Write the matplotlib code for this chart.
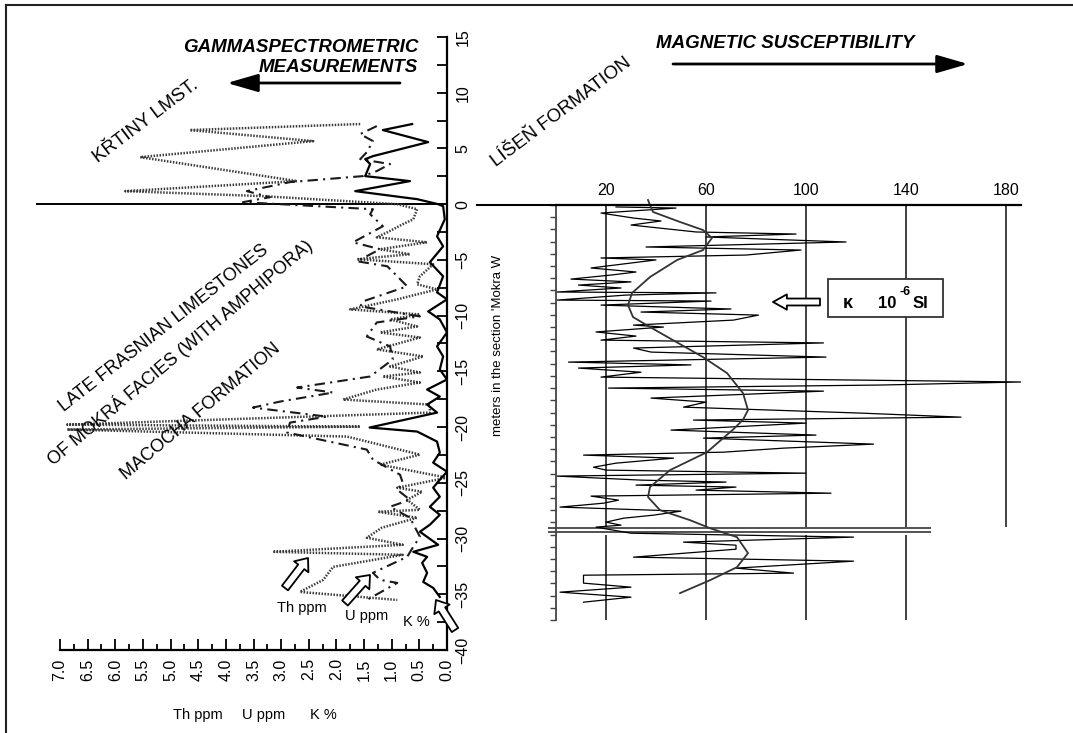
import matplotlib.pyplot as plt
from matplotlib.patches import FancyArrowPatch, Rectangle
from matplotlib.lines import Line2D

plt.rcParams['font.family'] = ['Liberation Sans', 'DejaVu Sans']

W, H = 1073, 733

# --- gammaspectrometry (depth in m, values in ppm / %) ---
k_depth = [7.19, 6.65, 5.57, 4.31, 4.04, 3.6, 2.52, 2.07, 1.17, 0.45, 0.0, -0.18, -1.35, -2.88,
           -3.78, -5.21, -6.47, -7.91, -8.54, -9.62, -10.34, -11.51, -12.76, -13.66, -14.83,
           -15.73, -16.63, -17.26, -17.98, -18.7, -20.04, -20.4, -21.3, -22.29, -23.19, -24.0,
           -24.72, -25.44, -26.25, -27.15, -27.87, -28.76, -29.39, -30.56, -31.19, -31.64,
           -32.18, -33.08, -33.89, -34.43, -35.24]
k_pct = [0.63, 1.16, 0.34, 1.34, 1.48, 1.39, 1.48, 0.67, 1.66, 0.54, 0.16, 0.07, 0.04, 0.18,
         0.07, 0.31, 0.07, 0.18, 0.0, 0.34, 0.13, 0.0, 0.18, 0.07, 0.13,
         0.0, 0.36, 0.13, 0.36, 0.18, 1.4, 0.54, 0.18, 0.13, 0.25, 0.0,
         0.13, 0.25, 0.13, 0.31, 0.13, 0.31, 0.49, 0.16, 0.61, 0.36,
         0.45, 0.36, 0.43, 0.25, 0.13]

th_depth = [7.19, 6.65, 5.66, 4.22, 2.07, 1.17, 0.72, 0.0, -0.45, -1.35, -1.8, -2.52, -2.97,
            -3.42, -4.04, -4.49, -4.94, -5.39, -6.47, -7.19, -7.64, -8.54, -9.44, -9.89,
            -10.34, -10.97, -11.51, -11.96, -13.03, -13.66, -14.56, -15.1, -15.46, -16.0,
            -16.63, -17.53, -17.98, -18.7, -19.78, -19.96, -20.22, -20.85, -22.47, -23.37,
            -24.54, -25.44, -25.8, -26.52, -27.42, -27.6, -28.13, -29.03, -29.93, -30.56,
            -31.19, -31.46, -32.54, -33.71, -34.79, -35.51]
th_ppm = [1.57, 4.65, 2.42, 5.55, 2.71, 5.82, 3.33, 0.9, 0.54, 0.61, 0.8, 1.08, 1.27,
          0.36, 1.21, 0.67, 1.63, 0.25, 0.49, 0.54, 0.18, 0.9, 1.75, 0.49,
          1.03, 0.54, 1.21, 0.49, 1.27, 0.43, 1.03, 0.49, 1.16, 0.49,
          1.27, 1.88, 0.31, 0.31, 6.87, 1.57, 6.87, 1.81, 0.49, 1.21,
          0.0, 0.9, 0.45, 0.72, 0.49, 1.25, 0.54, 1.18, 1.45, 0.8,
          3.15, 0.8, 2.06, 2.24, 2.66, 0.9]

u_depth = [7.01, 6.29, 5.66, 4.67, 4.04, 3.6, 2.97, 2.52, 1.98, 1.17, 0.63, 0.18, -0.45, -0.9,
           -1.98, -3.42, -4.04, -5.12, -5.57, -7.37, -8.72, -9.17, -10.07, -10.61, -11.87,
           -12.76, -13.93, -15.46, -16.45, -16.9, -17.71, -18.25, -19.06, -19.6, -20.49,
           -22.02, -22.92, -23.64, -24.27, -24.99, -25.62, -26.52, -27.15, -28.13, -29.84,
           -30.74, -31.64, -33.08, -33.71, -33.98, -35.51]
u_ppm = [1.27, 1.57, 1.34, 1.45, 1.57, 1.03, 1.27, 1.52, 2.84, 3.62, 3.2, 3.69, 1.34, 1.39,
         1.16, 1.7, 1.21, 1.63, 1.08, 0.72, 1.52, 1.57, 0.49, 1.27, 1.45,
         1.03, 0.98, 1.39, 2.71, 2.06, 3.02, 3.51, 2.17, 2.84, 2.89,
         1.45, 1.34, 1.08, 0.85, 0.8, 0.9, 0.67, 1.03, 0.67, 0.49,
         0.61, 0.72, 1.34, 1.21, 0.9, 1.45]

# --- magnetic susceptibility (kappa 10^-6 SI) ---
ms_depth = [-0.16, -0.25, -0.66, -1.07, -1.31, -1.64, -2.21, -2.38, -2.62, -3.03, -3.44, -3.69,
            -4.1, -4.34, -4.5, -5.16, -5.49, -5.74, -6.07, -6.3, -6.56, -6.8, -7.13, -7.2,
            -7.38, -7.79, -7.87, -8.2, -8.52, -8.77, -9.02, -9.43, -9.84, -10.0, -10.4,
            -10.74, -11.07, -11.3, -11.72, -12.05, -12.46, -12.87, -13.1, -13.36, -13.7,
            -14.1, -14.5, -14.75, -15.0, -15.25, -15.82, -16.15, -16.56, -17.05, -17.38,
            -17.62, -17.87, -18.44, -18.85, -19.1, -19.59, -19.92, -20.25, -20.49, -20.74,
            -21.15, -21.48, -21.72, -21.97, -22.21, -22.54, -22.7, -22.95, -23.11, -23.36,
            -23.61, -23.85, -24.18, -24.43, -24.75, -25.08, -25.41, -25.66, -25.98, -26.23,
            -26.39, -26.89, -27.21, -27.62, -27.87, -28.2, -28.85, -29.18, -29.75, -30.16,
            -30.33, -30.98, -31.31, -31.72, -32.13, -32.54]
ms_kappa = [24, 48, 18, 31, 42, 30, 56, 96, 60, 116, 36, 98,
            76, 18, 40, 14, 32, 22, 6, 30, 9, 26, 0.4, 64,
            28, 0.4, 62, 18, 70, 34, 81, 71, 31, 43, 16,
            32, 18, 107, 31, 38, 108, 5, 54, 9, 34,
            18, 186, 130, 21, 107, 38, 60, 51, 122, 162,
            55, 100, 46, 104, 59, 127, 91, 67, 11, 47,
            24, 15, 20, 100, 0.4, 34, 68, 32, 72, 56,
            110, 14, 25, 19, 1.6, 50, 39, 27, 20, 26,
            16, 30, 119, 51, 72, 72, 31, 119, 72, 95,
            11, 11, 30, 1.6, 30, 11]

trend_depth = [0.41, 0.0, -0.57, -1.39, -2.05, -2.7, -3.69, -4.51, -5.9, -7.21, -8.2, -9.18,
               -10.0, -11.07, -12.46, -13.77, -15.41, -16.8, -17.6, -18.4, -20.25, -21.72,
               -23.11, -23.93, -25.0, -25.82, -26.48, -27.21, -28.52, -29.67, -30.74, -31.8]
trend_kappa = [36.8, 37.6, 38.8, 49.6, 58.8, 62.4, 58.8, 48.4, 37.6, 30.4, 28.8, 30.8,
               37.6, 46.8, 58.8, 68.4, 74.8, 76.8, 74.8, 70.8, 60.4, 45.6,
               37.6, 36.8, 41.6, 53.6, 61.6, 72.4, 76.8, 72.4, 61.6, 49.6]

ms_grid = [20, 60, 100, 140, 180]


def box(x0, y0, x1, y1):
    return [x0 / W, 1 - y1 / H, (x1 - x0) / W, (y1 - y0) / H]


def pt(x, y):
    return (x / W, 1 - y / H)


fig = plt.figure(figsize=(W / 100, H / 100), dpi=100)

# gamma panel
ax1 = fig.add_axes(box(60, 37, 447, 650))
ax1.set_xlim(7, 0)
ax1.set_ylim(-40, 15)
ax1.patch.set_alpha(0)
for s in ['top', 'left']:
    ax1.spines[s].set_visible(False)
ax1.spines['right'].set_linewidth(1.6)
ax1.spines['bottom'].set_linewidth(1.6)
ax1.yaxis.tick_right()
ax1.set_yticks(range(-40, 16, 5))
ax1.set_yticks([v + 2.5 for v in range(-40, 15, 5)], minor=True)
ax1.set_xticks([i * 0.5 for i in range(15)])
ax1.set_xticklabels([f'{i * 0.5:.1f}' for i in range(15)], rotation=90)
ax1.set_xticks([i * 0.5 + 0.25 for i in range(14)], minor=True)
ax1.tick_params(axis='y', which='both', direction='in', length=7, width=1.3,
                labelsize=11.5, pad=6, labelrotation=90)
ax1.tick_params(axis='x', which='major', direction='in', length=8, width=1.3,
                labelsize=11.5, pad=6)
ax1.tick_params(axis='x', which='minor', direction='in', length=4, width=1.3)
for lab in ax1.get_yticklabels():
    lab.set_va('center')

ax1.axhline(0, xmin=-0.06, xmax=1, color='black', lw=1.4, clip_on=False)
ax1.plot(th_ppm, th_depth, color='#3a3a3a', lw=1.8, ls=(0, (0.6, 0.6)))
ax1.plot(u_ppm, u_depth, color='#1a1a1a', lw=1.5, ls=(0, (5, 2.5, 1, 2.5)))
ax1.plot(k_pct, k_depth, color='black', lw=1.6)

# magnetic susceptibility panel
ax2 = fig.add_axes(box(556, 205, 1021, 620))
ax2.set_xlim(0, 186)
ax2.set_ylim(-34, 0)
ax2.patch.set_alpha(0)
for s in ['right', 'bottom']:
    ax2.spines[s].set_visible(False)
ax2.spines['left'].set_linewidth(1.3)
ax2.spines['left'].set_color('#444444')
ax2.spines['top'].set_linewidth(1.6)
ax2.xaxis.tick_top()
ax2.set_xticks(ms_grid)
ax2.tick_params(axis='x', length=0, pad=5, labelsize=11.5)
ax2.set_yticks(range(-34, 1))
ax2.tick_params(axis='y', length=4, width=1, color='#444444', labelleft=False)
ax2.axhline(0, xmin=-0.17, xmax=0, color='black', lw=1.5, clip_on=False)

ax2.vlines(ms_grid, -26.35, 0, color='#333333', lw=1.3)
ax2.vlines(ms_grid[:4], -34, -27.0, color='#333333', lw=1.3)
ax2.hlines([-26.5, -26.8], -3.2, 150, color='#444444', lw=1.3, clip_on=False)

ax2.plot(ms_kappa, ms_depth, color='black', lw=0.9)
ax2.plot(trend_kappa, trend_depth, color='#333333', lw=1.3, clip_on=False)

# headers and arrows
fig.text(*pt(418, 47), 'GAMMASPECTROMETRIC', ha='right', va='center',
         fontsize=13.5, fontweight='bold', fontstyle='italic')
fig.text(*pt(418, 68), 'MEASUREMENTS', ha='right', va='center',
         fontsize=13.5, fontweight='bold', fontstyle='italic')
fig.text(*pt(656, 43), 'MAGNETIC SUSCEPTIBILITY', ha='left', va='center',
         fontsize=13.5, fontweight='bold', fontstyle='italic')
for tail, tip in [((400, 83), (227, 83)), ((673, 64), (968, 64))]:
    fig.add_artist(FancyArrowPatch(pt(*tail), pt(*tip), transform=fig.transFigure,
                                   arrowstyle='-|>,head_length=19,head_width=5.5',
                                   mutation_scale=1, lw=2, color='black',
                                   shrinkA=0, shrinkB=0))

# formation labels
for xy, txt, rot, fs in [((146, 121), 'KŘTINY LMST.', 37, 13.5),
                         ((561, 112), 'LÍŠEŇ FORMATION', 37, 13.5),
                         ((164, 328), 'LATE FRASNIAN LIMESTONES', 38, 13),
                         ((180, 352), 'OF MOKRÁ FACIES (WITH AMPHIPORA)', 40, 13),
                         ((201, 412), 'MACOCHA FORMATION', 40, 13)]:
    fig.text(*pt(*xy), txt, rotation=rot, rotation_mode='anchor',
             ha='center', va='center', fontsize=fs)

fig.text(*pt(498, 345), "meters in the section 'Mokra W", rotation=90,
         ha='center', va='center', fontsize=9.5)

# curve labels
for xy, txt in [((302, 608), 'Th ppm'), ((367, 616), 'U ppm'), ((416, 622), 'K %'),
                ((198, 715), 'Th ppm'), ((264, 715), 'U ppm'), ((323, 715), 'K %')]:
    fig.text(*pt(*xy), txt, ha='center', va='center', fontsize=10.5)


def block_arrow(tail, tip, hw=13, hl=8, tw=5.5):
    fig.add_artist(FancyArrowPatch(
        pt(*tail), pt(*tip), transform=fig.transFigure,
        arrowstyle=f'simple,head_width={hw},head_length={hl},tail_width={tw}',
        mutation_scale=1, facecolor='white', edgecolor='black', lw=1.3,
        shrinkA=0, shrinkB=0))


block_arrow((285, 588), (308, 558))
block_arrow((345, 603), (370, 575))
block_arrow((455, 630), (436, 600))
block_arrow((820, 302), (773, 302), hw=11, hl=10, tw=5)

# kappa legend box
fig.add_artist(Rectangle(pt(828, 317), 115 / W, 38 / H, transform=fig.transFigure,
                         facecolor='white', edgecolor='#333333', lw=1.3))
fig.text(*pt(848, 303), 'κ', ha='center', va='center', fontsize=13, fontweight='bold')
fig.text(*pt(887, 303), '10', ha='center', va='center', fontsize=12, fontweight='bold')
fig.text(*pt(905, 292), '-6', ha='center', va='center', fontsize=9, fontweight='bold')
fig.text(*pt(920, 303), 'SI', ha='center', va='center', fontsize=12, fontweight='bold')

# page frame
fig.add_artist(Line2D([6 / W, 6 / W], [0, 1 - 5 / H], transform=fig.transFigure,
                      color='#222222', lw=1.5))
fig.add_artist(Line2D([6 / W, 1], [1 - 5 / H, 1 - 5 / H], transform=fig.transFigure,
                      color='#222222', lw=1.5))

fig.savefig('out.png', dpi=100)
